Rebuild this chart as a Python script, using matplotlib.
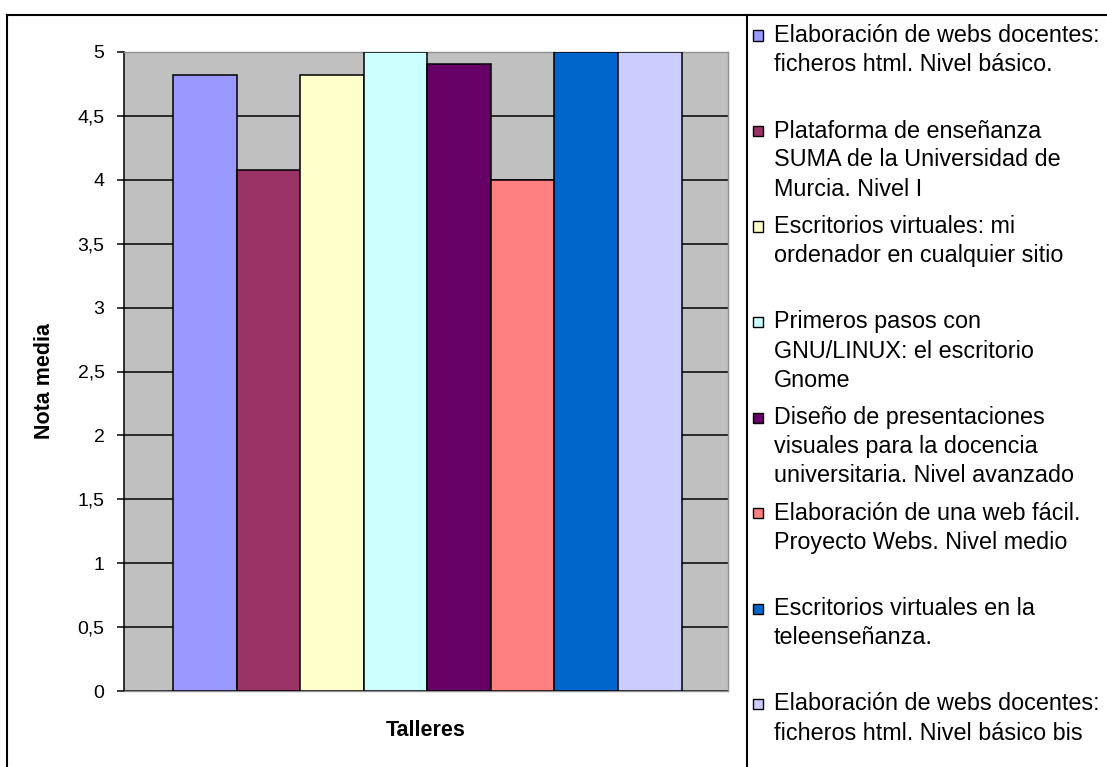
import numpy as np
import matplotlib
matplotlib.use("Agg")
import matplotlib.pyplot as plt
from matplotlib.patches import Rectangle
from matplotlib.lines import Line2D

# notas medias por taller
talleres = [
    "Elaboración de webs docentes:\nficheros html. Nivel básico.",
    "Plataforma de enseñanza\nSUMA de la Universidad de\nMurcia. Nivel I",
    "Escritorios virtuales: mi\nordenador en cualquier sitio",
    "Primeros pasos con\nGNU/LINUX: el escritorio\nGnome",
    "Diseño de presentaciones\nvisuales para la docencia\nuniversitaria. Nivel avanzado",
    "Elaboración de una web fácil.\nProyecto Webs. Nivel medio",
    "Escritorios virtuales en la\nteleenseñanza.",
    "Elaboración de webs docentes:\nficheros html. Nivel básico bis",
]
notas = [4.82, 4.08, 4.82, 5.0, 4.91, 4.0, 5.0, 5.0]
colores = ["#9999FF", "#993366", "#FFFFCC", "#CCFFFF",
           "#660066", "#FF8080", "#0066CC", "#CCCCFF"]
yticks = np.arange(0, 5.01, 0.5)
ytick_labels = [f"{v:g}".replace(".", ",") for v in yticks]

W, H = 1107, 767
FONT = "Liberation Sans"


def fx(px):
    return px / W


def fy(py):
    return 1 - py / H


fig = plt.figure(figsize=(W / 100, H / 100), dpi=100)
fig.patch.set_facecolor("white")

# marco exterior del gráfico y separador de la leyenda
fig.add_artist(Line2D([fx(7), fx(7)], [fy(15), -0.1], color="black", lw=1.5))
fig.add_artist(Line2D([fx(7), 1.1], [fy(15), fy(15)], color="black", lw=1.5))
fig.add_artist(Line2D([fx(747), fx(747)], [fy(15), -0.1], color="black", lw=1.5))

ax = fig.add_axes([fx(124), fy(691), fx(728) - fx(124), (691 - 52) / H])
ax.set_facecolor("#C0C0C0")
ax.set_axisbelow(True)

x = np.arange(len(notas))
ax.bar(x, notas, width=1.0, align="edge", color=colores,
       edgecolor="black", linewidth=1.1, zorder=3)

ax.set_xlim(-0.77, len(notas) + 0.73)
ax.set_ylim(0, 5)
ax.set_yticks(yticks)
ax.set_yticklabels(ytick_labels, fontsize=14, family=FONT)
ax.set_xticks([])
ax.yaxis.grid(True, color="black", lw=1.1)
ax.tick_params(axis="y", length=5, width=1.1, pad=9, color="black")

ax.spines["left"].set_color("black")
ax.spines["left"].set_linewidth(1.1)
for side in ["top", "right", "bottom"]:
    ax.spines[side].set_color("#909090")
    ax.spines[side].set_linewidth(1.0)

fig.text(fx(44), fy(381), "Nota media", rotation=90, ha="center", va="center",
         fontsize=15.5, fontweight="bold", family=FONT)
fig.text(fx(426), fy(731), "Talleres", ha="center", va="center",
         fontsize=15.5, fontweight="bold", family=FONT)

# leyenda dibujada a mano, una entrada cada 95.5 px
for i, (nombre, color) in enumerate(zip(talleres, colores)):
    y0 = 35.5 + 95.5 * i
    fig.add_artist(Rectangle((fx(753), fy(y0 + 5)), fx(10), 10 / H,
                             facecolor=color, edgecolor="black", lw=1.0))
    for j, linea in enumerate(nombre.split("\n")):
        fig.text(fx(774), fy(y0 + 29 * j), linea, ha="left", va="center",
                 fontsize=16.8, family=FONT)

fig.savefig("out.png", dpi=100)
